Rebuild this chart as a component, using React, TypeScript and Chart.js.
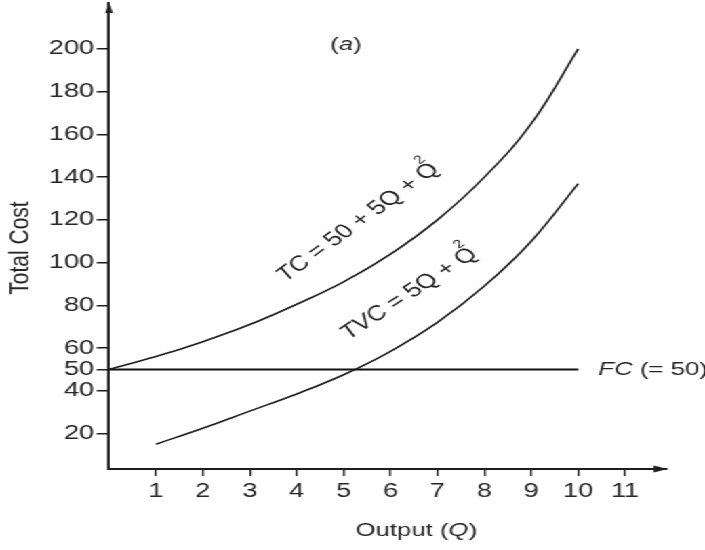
import React, { useEffect, useRef } from "react";
import { Chart, registerables } from "chart.js";

Chart.register(...registerables);

// Output levels and the cost read at each of them
const outputQ = [0, 1, 2, 3, 4, 5, 6, 7, 8, 9, 10];
const totalCost = [50, 56, 63, 71, 80.5, 91, 104, 120, 140, 165, 200];
const variableQ = [1, 2, 3, 4, 5, 6, 7, 8, 9, 10];
const totalVariableCost = [15, 22.5, 30.5, 38.5, 47.5, 58.5, 72, 89, 110, 137];
const fixedQ = [0, 10];
const fixedCost = [50, 50];

// Axis tick values
const xTickValues = [1, 2, 3, 4, 5, 6, 7, 8, 9, 10, 11];
const yTickValues = [20, 40, 50, 60, 80, 100, 120, 140, 160, 180, 200];

// Canvas is drawn narrow and widened horizontally on the page
const CANVAS_W = 520;
const CANVAS_H = 550;
const PAGE_W = 705;
const STRETCH = PAGE_W / CANVAS_W;

const FONT = "'Liberation Sans', Arial, Helvetica, sans-serif";
const INK = "#262626";
const LINE = "#1e1e1e";

type Run = { text: string; italic?: boolean; sup?: boolean };

type Note = {
  runs: Run[];
  q: number;
  cost: number;
  angle: number;
  size: number;
  align: "left" | "center";
  baseline: CanvasTextBaseline;
};

const notes: Note[] = [
  {
    runs: [{ text: "TC", italic: true }, { text: " = 50 + 5Q + Q" }, { text: "2", sup: true }],
    q: 5.42, cost: 117, angle: 44.5, size: 20, align: "center", baseline: "alphabetic",
  },
  {
    runs: [{ text: "TVC", italic: true }, { text: " = 5Q + Q" }, { text: "2", sup: true }],
    q: 6.5, cost: 83.5, angle: 41.4, size: 20, align: "center", baseline: "alphabetic",
  },
  {
    runs: [{ text: "FC", italic: true }, { text: " (= 50)" }],
    q: 10.43, cost: 50, angle: 0, size: 19, align: "left", baseline: "middle",
  },
  {
    runs: [{ text: "(" }, { text: "a", italic: true }, { text: ")" }],
    q: 5.05, cost: 202, angle: 0, size: 19, align: "center", baseline: "middle",
  },
];

const xTitleRuns: Run[] = [{ text: "Output (" }, { text: "Q", italic: true }, { text: ")" }];
const yTitleRuns: Run[] = [{ text: "Total Cost" }];

function runFont(run: Run, size: number) {
  const s = run.sup ? Math.round(size * 0.62) : size;
  return `${run.italic ? "italic " : ""}${s}px ${FONT}`;
}

function drawRuns(
  ctx: CanvasRenderingContext2D,
  runs: Run[],
  size: number,
  align: "left" | "center",
  baseline: CanvasTextBaseline
) {
  ctx.textBaseline = baseline;
  ctx.textAlign = "left";
  const widths = runs.map((r) => {
    ctx.font = runFont(r, size);
    return r.sup ? 0 : ctx.measureText(r.text).width;
  });
  const total = widths.reduce((a, b) => a + b, 0);
  let x = align === "center" ? -total / 2 : 0;
  let prevGlyph = 0;
  runs.forEach((r, i) => {
    ctx.font = runFont(r, size);
    if (r.sup) {
      ctx.fillText(r.text, x - prevGlyph * 0.45, -size * 0.74);
    } else {
      ctx.fillText(r.text, x, 0);
      const last = r.text.slice(-1);
      prevGlyph = ctx.measureText(last).width;
      x += widths[i];
    }
  });
}

const decorations = {
  id: "costDecorations",
  afterDraw(chart: Chart) {
    const { ctx, chartArea, scales } = chart;
    const xs = scales.x;
    const ys = scales.y;
    ctx.save();

    // arrow heads on both axes
    ctx.fillStyle = LINE;
    ctx.beginPath();
    ctx.moveTo(chartArea.left, chartArea.top - 1);
    ctx.lineTo(chartArea.left - 2.8, chartArea.top + 10);
    ctx.lineTo(chartArea.left + 2.8, chartArea.top + 10);
    ctx.closePath();
    ctx.fill();

    ctx.beginPath();
    ctx.moveTo(chartArea.right + 1, chartArea.bottom);
    ctx.lineTo(chartArea.right - 9, chartArea.bottom - 3.5);
    ctx.lineTo(chartArea.right - 9, chartArea.bottom + 3.5);
    ctx.closePath();
    ctx.fill();

    // curve labels and notes
    ctx.fillStyle = INK;
    notes.forEach((n) => {
      ctx.save();
      ctx.translate(xs.getPixelForValue(n.q), ys.getPixelForValue(n.cost));
      ctx.rotate((-n.angle * Math.PI) / 180);
      drawRuns(ctx, n.runs, n.size, n.align, n.baseline);
      ctx.restore();
    });

    // axis titles
    ctx.save();
    ctx.translate(xs.getPixelForValue(6.55), CANVAS_H - 19);
    drawRuns(ctx, xTitleRuns, 19, "center", "middle");
    ctx.restore();

    ctx.save();
    ctx.translate(15.5, 248);
    ctx.rotate(-Math.PI / 2);
    drawRuns(ctx, yTitleRuns, 21, "center", "middle");
    ctx.restore();

    ctx.restore();
  },
};

function clearPadding(scale: any) {
  scale.paddingTop = 0;
  scale.paddingBottom = 0;
  scale.paddingLeft = 0;
  scale.paddingRight = 0;
}

export default function App() {
  const canvasRef = useRef<HTMLCanvasElement | null>(null);

  useEffect(() => {
    const canvas = canvasRef.current;
    if (!canvas) return;

    const curve = {
      borderColor: LINE,
      borderWidth: 1.6,
      pointRadius: 0,
      fill: false,
      tension: 0.4,
    };

    const chart = new Chart(canvas, {
      type: "line",
      data: {
        datasets: [
          {
            ...curve,
            label: "TC",
            data: outputQ.map((q, i) => ({ x: q, y: totalCost[i] })),
          },
          {
            ...curve,
            label: "TVC",
            data: variableQ.map((q, i) => ({ x: q, y: totalVariableCost[i] })),
          },
          {
            label: "FC",
            data: fixedQ.map((q, i) => ({ x: q, y: fixedCost[i] })),
            borderColor: "#111",
            borderWidth: 2,
            pointRadius: 0,
            fill: false,
          },
        ],
      },
      options: {
        animation: false,
        responsive: false,
        devicePixelRatio: 1,
        events: [],
        layout: { padding: { left: 0, right: 28.8, top: 3, bottom: 0 } },
        plugins: {
          legend: { display: false },
          tooltip: { enabled: false },
        },
        scales: {
          x: {
            type: "linear",
            min: 0,
            max: 11.87,
            afterBuildTicks: (s: any) => {
              s.ticks = xTickValues.map((v) => ({ value: v }));
            },
            afterFit: (s: any) => {
              s.height = 81;
              clearPadding(s);
            },
            grid: {
              drawOnChartArea: false,
              drawTicks: true,
              tickLength: 7,
              color: LINE,
              lineWidth: 1.4,
            },
            border: { display: true, color: LINE, width: 2 },
            ticks: {
              autoSkip: false,
              maxRotation: 0,
              padding: 3,
              color: INK,
              font: { family: FONT, size: 20 },
            },
          },
          y: {
            type: "linear",
            min: 3.4,
            max: 221.5,
            afterBuildTicks: (s: any) => {
              s.ticks = yTickValues.map((v) => ({ value: v }));
            },
            afterFit: (s: any) => {
              s.width = 80.4;
              clearPadding(s);
            },
            grid: {
              drawOnChartArea: false,
              drawTicks: true,
              tickLength: 9,
              color: LINE,
              lineWidth: 1.5,
            },
            border: { display: true, color: LINE, width: 2 },
            ticks: {
              autoSkip: false,
              padding: 2,
              color: INK,
              font: { family: FONT, size: 20 },
            },
          },
        },
      },
      plugins: [decorations],
    });

    return () => chart.destroy();
  }, []);

  return (
    <div
      style={{
        position: "fixed",
        left: 0,
        top: 0,
        width: CANVAS_W,
        height: CANVAS_H,
        background: "#fff",
        transform: `scaleX(${STRETCH})`,
        transformOrigin: "0 0",
      }}
    >
      <canvas
        ref={canvasRef}
        width={CANVAS_W}
        height={CANVAS_H}
        style={{ width: `${CANVAS_W}px`, height: `${CANVAS_H}px`, display: "block" }}
      />
    </div>
  );
}
